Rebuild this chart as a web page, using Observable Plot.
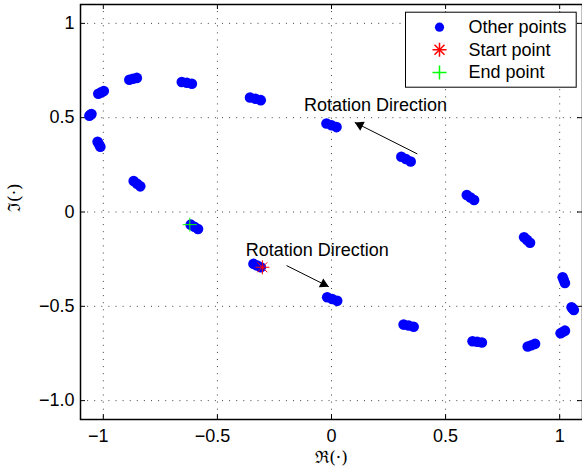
<!DOCTYPE html>
<html><head><meta charset="utf-8">
<script src="https://cdn.jsdelivr.net/npm/d3@7"></script>
<script src="https://cdn.jsdelivr.net/npm/@observablehq/plot@0.6"></script>
<style>
html,body{margin:0;padding:0;background:#fff;overflow:hidden;}
</style></head><body><div id="chart"></div>
<script>
// ---- data (each blob is a short smear of points) ----
const pointsRe = [
  -1.022, -1.010, -0.998,   -1.061, -1.056, -1.052,   -1.025, -1.019, -1.013,
  -0.867, -0.852, -0.838,   -0.617, -0.601, -0.585,   -0.886, -0.870, -0.853,
  -0.656, -0.634, -0.612,   -0.357, -0.333, -0.310,   -0.342, -0.326, -0.310,
  -0.022, 0.000, 0.022,     0.306, 0.326, 0.347,      0.593, 0.609, 0.625,
  0.844, 0.857, 0.870,      1.013, 1.018, 1.023,      1.052, 1.057, 1.062,
  1.004, 1.013, 1.023,      0.860, 0.876, 0.892,      0.618, 0.638, 0.659,
  0.316, 0.338, 0.360,      -0.019, 0.003, 0.025
];
const pointsIm = [
  0.627, 0.634, 0.641,      0.510, 0.515, 0.519,      0.372, 0.359, 0.346,
  0.164, 0.150, 0.136,      -0.067, -0.078, -0.090,   0.701, 0.706, 0.711,
  0.689, 0.685, 0.680,      0.607, 0.600, 0.593,      -0.275, -0.284, -0.293,
  0.469, 0.460, 0.450,      0.293, 0.281, 0.268,      0.090, 0.077, 0.064,
  -0.134, -0.148, -0.163,   -0.346, -0.361, -0.376,   -0.505, -0.512, -0.519,
  -0.643, -0.636, -0.629,   -0.713, -0.706, -0.699,   -0.685, -0.688, -0.692,
  -0.597, -0.602, -0.608,   -0.452, -0.461, -0.471
];
const startPoint = [-0.303, -0.293];
const endPoint = [-0.621, -0.067];
const xTicks = [-1, -0.5, 0, 0.5, 1];
const xTickLabels = ["−1", "−0.5", "0", "0.5", "1"];
const yTicks = [-1, -0.5, 0, 0.5, 1];
const yTickLabels = ["−1.0", "−0.5", "0", "0.5", "1"];
const xLabel = "ℜ(·)";
const yLabel = "ℑ(·)";
const legendLabels = ["Other points", "Start point", "End point"];
const annotationText = ["Rotation Direction", "Rotation Direction"];
const annotationX = [-0.121, -0.376];
const annotationY = [0.567, -0.201];
const arrowX1 = [0.376, -0.197];
const arrowY1 = [0.308, -0.284];
const arrowX2 = [0.102, -0.012];
const arrowY2 = [0.475, -0.396];

// ---- layout ----
const W = 582, H = 467, mL = 80, mR = 0, mT = 4, mB = 48;
const plotW = W - mL - mR, plotH = H - mT - mB;
const kx = plotW / 2.2, ky = plotH / 2.2;
const FONT = "'Liberation Sans', Arial, Helvetica, sans-serif";
const FS = 18;
const blue = "#0000ff", red = "#ff0000", green = "#00ff00";
const markR = 4.6, headR = 3.7;

const xFmt = new Map(xTicks.map((t, i) => [t, xTickLabels[i]]));
const yFmt = new Map(yTicks.map((t, i) => [t, yTickLabels[i]]));
const pts = pointsRe.map((x, i) => ({x, y: pointsIm[i]}));
const grid = {stroke: "#000", strokeOpacity: 0.75, strokeWidth: 1, strokeDasharray: "1,6.1"};

const marks = [
  Plot.ruleX(xTicks, grid),
  Plot.ruleY(yTicks, grid),
  Plot.ruleX(xTicks, {insetTop: plotH - 5, stroke: "#000"}),
  Plot.ruleX(xTicks, {insetBottom: plotH - 5, stroke: "#000"}),
  Plot.ruleY(yTicks, {insetRight: plotW - 5, stroke: "#000"}),
  Plot.ruleY(yTicks, {insetLeft: plotW - 5, stroke: "#000"}),
  Plot.axisX(xTicks.filter(d => d < 0), {tickSize: 0, tickPadding: 10, tickFormat: d => xFmt.get(d), dx: -5, label: null, fontSize: FS}),
  Plot.axisX(xTicks.filter(d => d >= 0), {tickSize: 0, tickPadding: 10, tickFormat: d => xFmt.get(d), label: null, fontSize: FS}),
  Plot.axisY(yTicks, {tickSize: 0, tickPadding: 6, tickFormat: d => yFmt.get(d), label: null, fontSize: FS}),
  Plot.frame({stroke: "#000", strokeWidth: 1.5}),
  Plot.dot(pts, {x: "x", y: "y", r: 5.3, fill: blue}),
  Plot.dot([startPoint], {x: d => d[0], y: d => d[1], symbol: "plus", r: markR, stroke: red, strokeWidth: 1}),
  Plot.dot([startPoint], {x: d => d[0], y: d => d[1], symbol: "times", r: markR, stroke: red, strokeWidth: 1}),
  Plot.dot([endPoint], {x: d => d[0], y: d => d[1], symbol: "plus", r: markR, stroke: green, strokeWidth: 1}),
  Plot.link(arrowX1, {x1: arrowX1, y1: arrowY1, x2: arrowX2, y2: arrowY2, stroke: "#000", strokeWidth: 1}),
  Plot.text(annotationText, {x: annotationX, y: annotationY, text: d => d, textAnchor: "start", lineAnchor: "middle", fontSize: FS, fill: "#000"}),
  Plot.text([xLabel], {frameAnchor: "bottom", dy: 38, text: d => d, lineAnchor: "middle", fontFamily: "'DejaVu Serif', serif", fontSize: 17, fill: "#000"}),
  Plot.text([yLabel], {frameAnchor: "left", dx: -66, rotate: -90, text: d => d, lineAnchor: "middle", fontFamily: "'DejaVu Serif', serif", fontSize: 17, fill: "#000"})
];

// arrow heads (filled triangles, tip on the arrow end)
arrowX1.forEach((x1, i) => {
  const px = (arrowX2[i] - x1) * kx, py = -(arrowY2[i] - arrowY1[i]) * ky;
  const th = Math.atan2(py, px);
  const half = Math.sqrt(Math.PI * headR * headR / (3 * Math.sqrt(3)));
  marks.push(Plot.dot([i], {
    x: j => arrowX2[j], y: j => arrowY2[j], symbol: "triangle", r: headR, fill: "#000",
    rotate: th * 180 / Math.PI + 90, dx: -Math.cos(th) * 2 * half, dy: -Math.sin(th) * 2 * half
  }));
});

// legend
const legRowDy = [22.7, 45.3, 68];
marks.push(Plot.frame({fill: "#fff", stroke: "#000", strokeWidth: 1, insetLeft: 325, insetRight: 6.3, insetTop: 7.7, insetBottom: 332.3}));
marks.push(Plot.dot([0], {frameAnchor: "top-right", dx: -143, dy: legRowDy[0], r: markR, fill: blue}));
marks.push(Plot.dot([0], {frameAnchor: "top-right", dx: -143, dy: legRowDy[1], symbol: "plus", r: markR, stroke: red}));
marks.push(Plot.dot([0], {frameAnchor: "top-right", dx: -143, dy: legRowDy[1], symbol: "times", r: markR, stroke: red}));
marks.push(Plot.dot([0], {frameAnchor: "top-right", dx: -143, dy: legRowDy[2], symbol: "plus", r: markR, stroke: green}));
legendLabels.forEach((label, i) => {
  marks.push(Plot.text([label], {frameAnchor: "top-right", dx: -114, dy: legRowDy[i], text: d => d, textAnchor: "start", lineAnchor: "middle", fontSize: FS, fill: "#000"}));
});

const chart = Plot.plot({
  width: W, height: H,
  marginLeft: mL, marginRight: mR, marginTop: mT, marginBottom: mB,
  x: {domain: [-1.1, 1.1]},
  y: {domain: [-1.1, 1.1]},
  style: {fontFamily: FONT, fontSize: FS + "px", background: "#fff", color: "#000", maxWidth: "none"},
  marks
});
document.getElementById("chart").appendChild(chart);
</script>
</body></html>
